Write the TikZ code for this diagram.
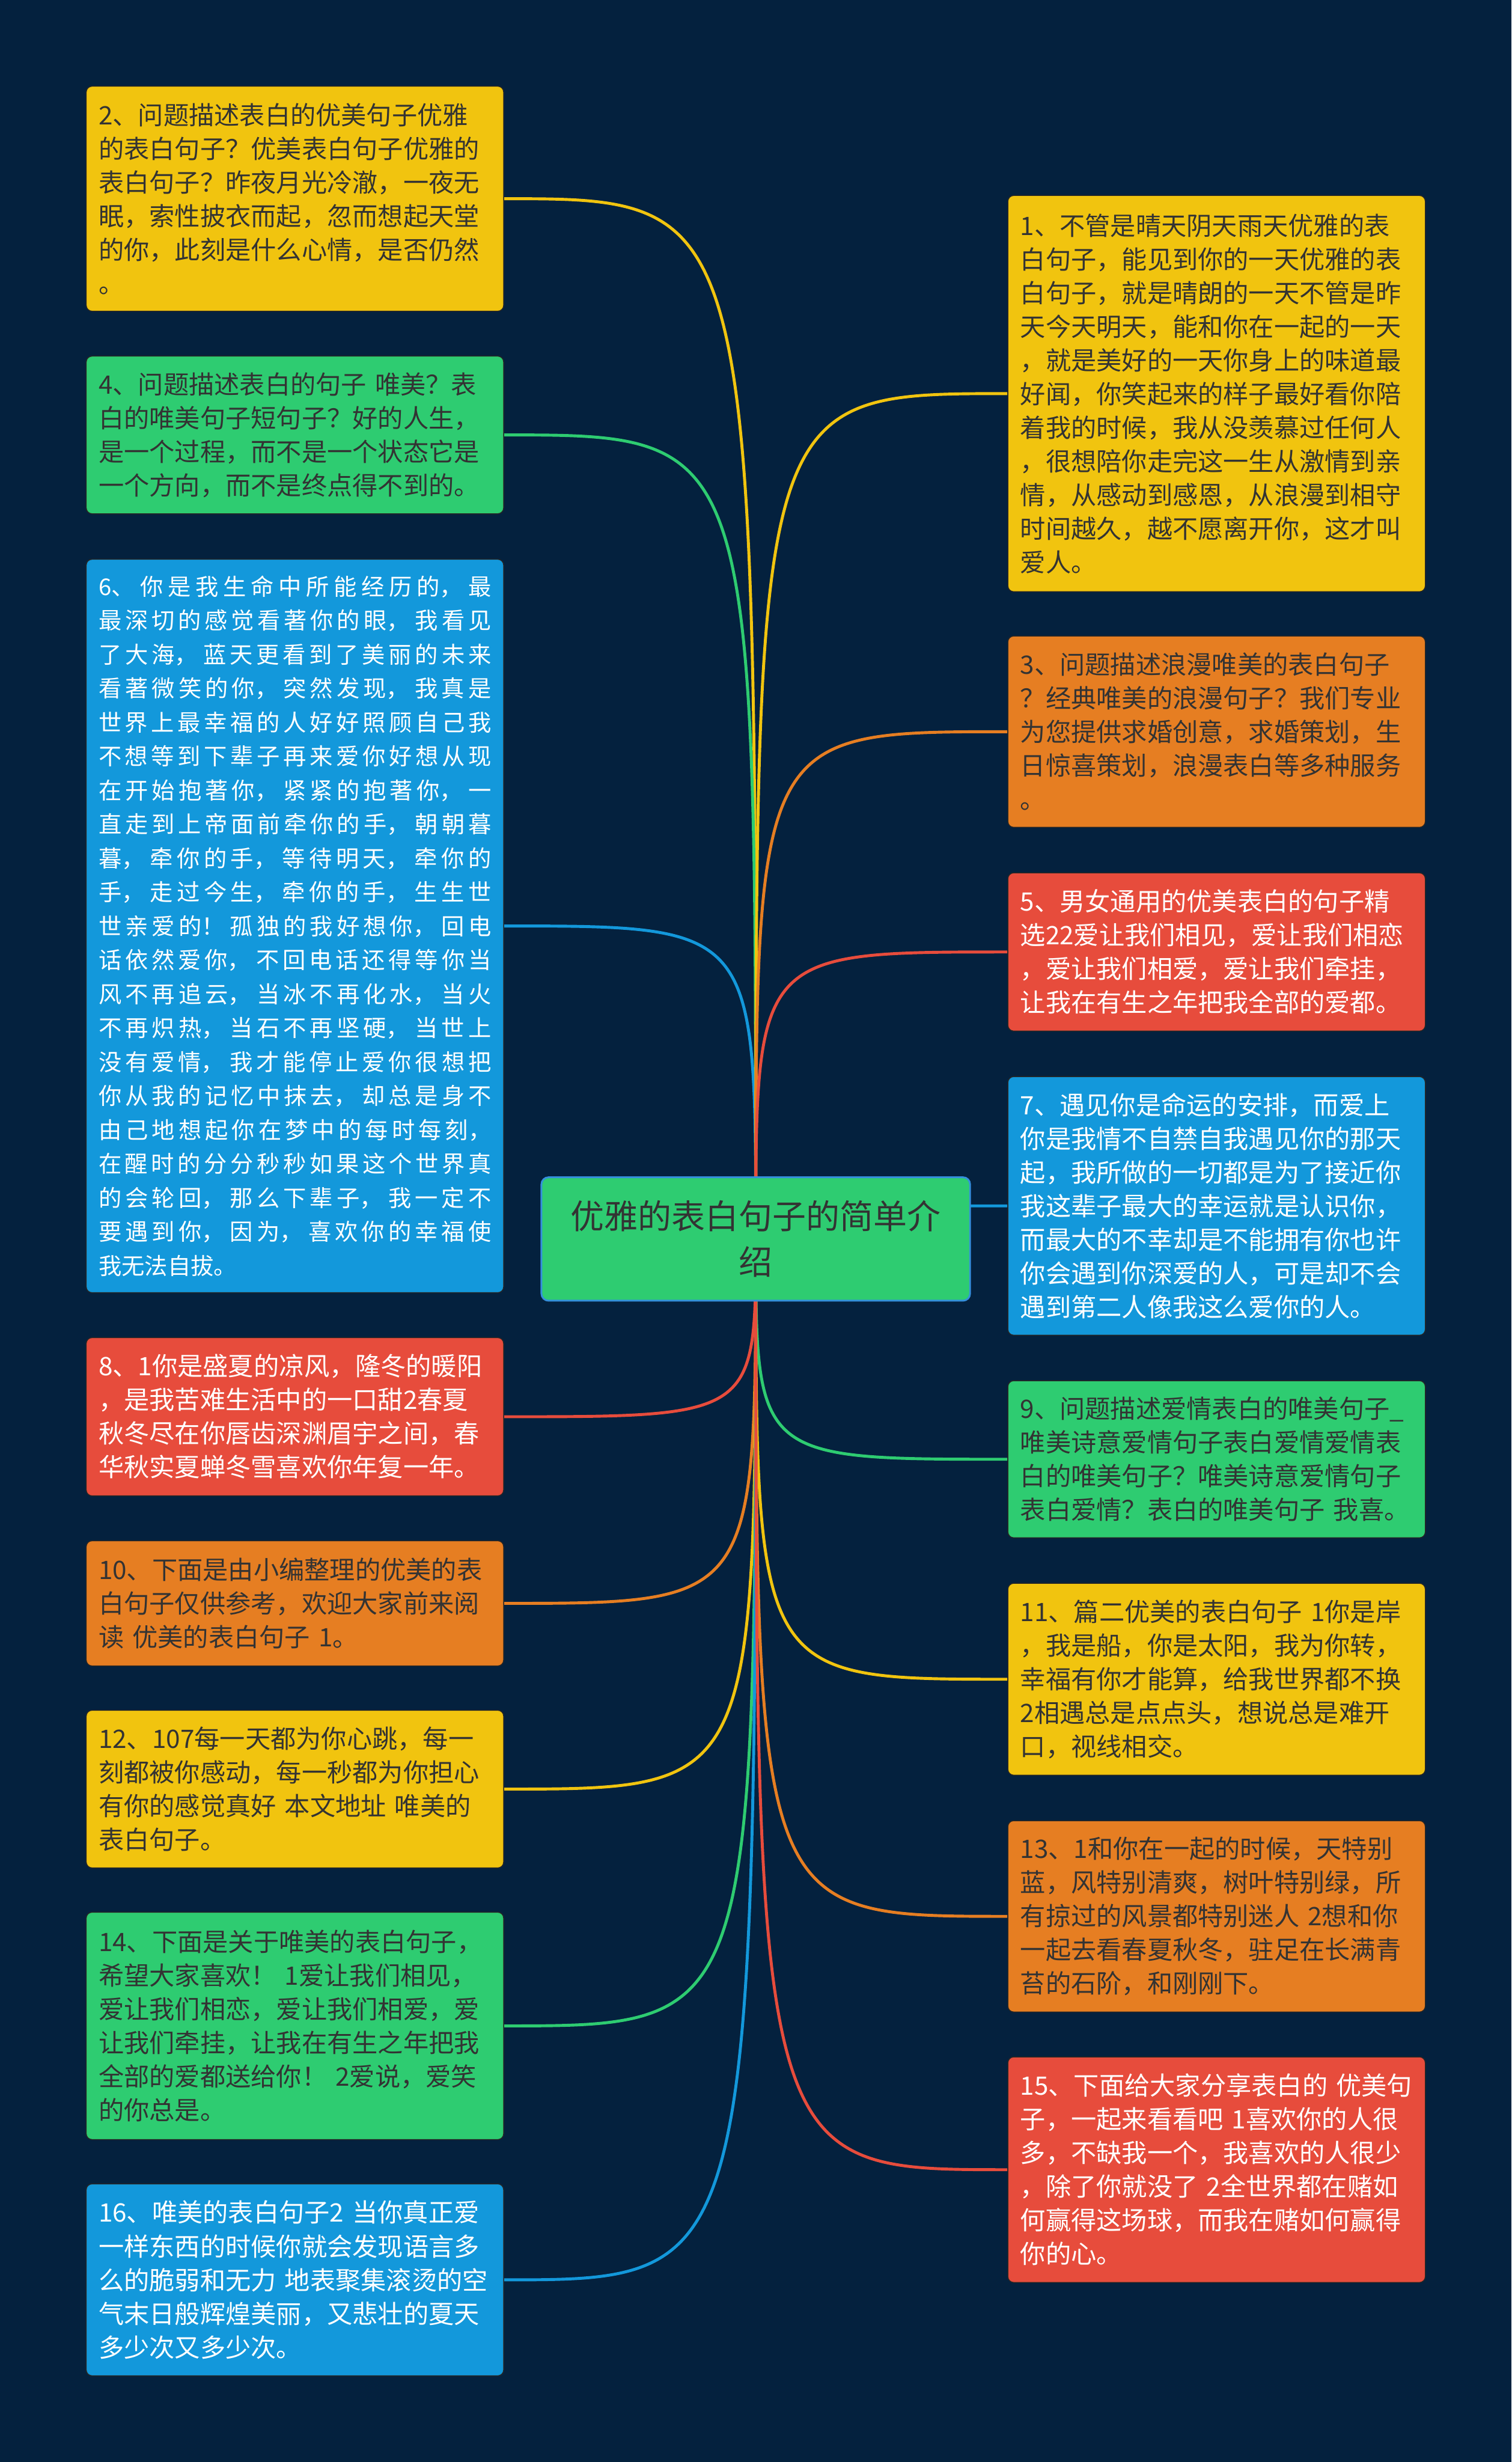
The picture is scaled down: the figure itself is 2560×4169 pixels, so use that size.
\documentclass[tikz,border=0pt]{standalone}
\usepackage{fontspec}
\setmainfont{Noto Sans CJK SC}
\definecolor{bgc}{RGB}{4,33,62}
\definecolor{cyel}{RGB}{241,196,15}
\definecolor{cgrn}{RGB}{46,204,113}
\definecolor{corg}{RGB}{230,126,34}
\definecolor{cred}{RGB}{231,76,60}
\definecolor{cblu}{RGB}{19,152,219}
\definecolor{ctxt}{RGB}{51,51,51}
\definecolor{croot}{RGB}{52,143,219}
\pgfdeclarelayer{bglayer}
\pgfdeclarelayer{lines}
\pgfsetlayers{bglayer,lines,main}
\newcommand{\cjkjust}{\XeTeXlinebreaklocale "zh"\relax\XeTeXlinebreakskip 0pt plus 40pt\relax\rightskip 22pt\relax}
\begin{document}
\begin{tikzpicture}[x=1pt,y=-1pt,
  card/.style={rectangle, rounded corners=10pt, minimum width=707pt, text width=665pt,
    inner xsep=21pt, inner ysep=0pt, align=left, draw=black!85, line width=1.5pt,
    font=\fontsize{43pt}{57pt}\selectfont},
  ycard/.style={card, fill=cyel, text=ctxt},
  gcard/.style={card, fill=cgrn, text=ctxt},
  ocard/.style={card, fill=corg, text=ctxt},
  rcard/.style={card, fill=cred, text=white},
  bcard/.style={card, fill=cblu, text=white},
  rootbox/.style={rectangle, rounded corners=12pt, minimum width=726pt, minimum height=209pt,
    fill=cgrn, draw=croot, line width=3pt, align=center, text=ctxt,
    font=\fontsize{57pt}{77pt}\selectfont},
  conn/.style={line width=5pt}
]
\begin{pgfonlayer}{bglayer}
\fill[bgc] (0,0) rectangle (2560,4169);
\end{pgfonlayer}
\useasboundingbox (0,0) rectangle (2560,4169);

\node[rootbox] (root) at (1280,2098) {优雅的表白句子的简单介\\绍};

% left column
\node[ycard, minimum height=381pt] (b2) at (499.5,336.5) {2、问题描述表白的优美句子优雅\\的表白句子？优美表白句子优雅的\\表白句子？昨夜月光冷澈，一夜无\\眠，索性披衣而起，忽而想起天堂\\的你，此刻是什么心情，是否仍然\\。};
\node[gcard, minimum height=267pt] (b4) at (499.5,736.5) {4、问题描述表白的句子~唯美？表\\白的唯美句子短句子？好的人生，\\是一个过程，而不是一个状态它是\\一个方向，而不是终点得不到的。};
\node[bcard, minimum height=1242pt, align=justify, font=\fontsize{39pt}{57.5pt}\selectfont]
  (b6) at (499.5,1568) {\cjkjust 6、~你是我生命中所能经历的，~最\linebreak 最深切的感觉看著你的眼，~我看见\linebreak 了大海，~蓝天更看到了美丽的未来\linebreak 看著微笑的你，~突然发现，~我真是\linebreak 世界上最幸福的人好好照顾自己我\linebreak 不想等到下辈子再来爱你好想从现\linebreak 在开始抱著你，~紧紧的抱著你，~一\linebreak 直走到上帝面前牵你的手，~朝朝暮\linebreak 暮，~牵你的手，~等待明天，~牵你的\linebreak 手，~走过今生，~牵你的手，~生生世\linebreak 世亲爱的！~孤独的我好想你，~回电\linebreak 话依然爱你，~不回电话还得等你当\linebreak 风不再追云，~当冰不再化水，~当火\linebreak 不再炽热，~当石不再坚硬，~当世上\linebreak 没有爱情，~我才能停止爱你很想把\linebreak 你从我的记忆中抹去，~却总是身不\linebreak 由己地想起你在梦中的每时每刻，\linebreak 在醒时的分分秒秒如果这个世界真\linebreak 的会轮回，~那么下辈子，~我一定不\linebreak 要遇到你，~因为，~喜欢你的幸福使\linebreak 我无法自拔。};
\node[rcard, minimum height=268pt] (b8) at (499.5,2399) {8、1你是盛夏的凉风，隆冬的暖阳\\，是我苦难生活中的一口甜2春夏\\秋冬尽在你唇齿深渊眉宇之间，春\\华秋实夏蝉冬雪喜欢你年复一年。};
\node[ocard, minimum height=212pt] (b10) at (499.5,2715) {10、下面是由小编整理的优美的表\\白句子仅供参考，欢迎大家前来阅\\读~优美的表白句子~1。};
\node[ycard, minimum height=267pt] (b12) at (499.5,3029.5) {12、107每一天都为你心跳，每一\\刻都被你感动，每一秒都为你担心\\有你的感觉真好~本文地址~唯美的\\表白句子。};
\node[gcard, minimum height=385pt] (b14) at (499.5,3430.5) {14、下面是关于唯美的表白句子，\\希望大家喜欢！~1爱让我们相见，\\爱让我们相恋，爱让我们相爱，爱\\让我们牵挂，让我在有生之年把我\\全部的爱都送给你！~2爱说，爱笑\\的你总是。};
\node[bcard, minimum height=325pt] (b16) at (499.5,3860.5) {16、唯美的表白句子2~当你真正爱\\一样东西的时候你就会发现语言多\\么的脆弱和无力~地表聚集滚烫的空\\气末日般辉煌美丽，又悲壮的夏天\\多少次又多少次。};

% right column
\node[ycard, minimum height=671pt] (b1) at (2060.5,666.5) {1、不管是晴天阴天雨天优雅的表\\白句子，能见到你的一天优雅的表\\白句子，就是晴朗的一天不管是昨\\天今天明天，能和你在一起的一天\\，就是美好的一天你身上的味道最\\好闻，你笑起来的样子最好看你陪\\着我的时候，我从没羡慕过任何人\\，很想陪你走完这一生从激情到亲\\情，从感动到感恩，从浪漫到相守\\时间越久，越不愿离开你，这才叫\\爱人。};
\node[ocard, minimum height=324pt] (b3) at (2060.5,1239) {3、问题描述浪漫唯美的表白句子\\？经典唯美的浪漫句子？我们专业\\为您提供求婚创意，求婚策划，生\\日惊喜策划，浪漫表白等多种服务\\。};
\node[rcard, minimum height=268pt] (b5) at (2060.5,1612) {5、男女通用的优美表白的句子精\\选22爱让我们相见，爱让我们相恋\\，爱让我们相爱，爱让我们牵挂，\\让我在有生之年把我全部的爱都。};
\node[bcard, minimum height=438pt] (b7) at (2060.5,2042) {7、遇见你是命运的安排，而爱上\\你是我情不自禁自我遇见你的那天\\起，我所做的一切都是为了接近你\\我这辈子最大的幸运就是认识你，\\而最大的不幸却是不能拥有你也许\\你会遇到你深爱的人，可是却不会\\遇到第二人像我这么爱你的人。};
\node[gcard, minimum height=266pt] (b9) at (2060.5,2471) {9、问题描述爱情表白的唯美句子\_\\唯美诗意爱情句子表白爱情爱情表\\白的唯美句子？唯美诗意爱情句子\\表白爱情？表白的唯美句子~我喜。};
\node[ycard, minimum height=325pt] (b11) at (2060.5,2843.5) {11、篇二优美的表白句子~1你是岸\\，我是船，你是太阳，我为你转，\\幸福有你才能算，给我世界都不换\\2相遇总是点点头，想说总是难开\\口，视线相交。};
\node[ocard, minimum height=324pt] (b13) at (2060.5,3245) {13、1和你在一起的时候，天特别\\蓝，风特别清爽，树叶特别绿，所\\有掠过的风景都特别迷人~2想和你\\一起去看春夏秋冬，驻足在长满青\\苔的石阶，和刚刚下。};
\node[rcard, minimum height=382pt] (b15) at (2060.5,3674) {15、下面给大家分享表白的~优美句\\子，一起来看看吧~1喜欢你的人很\\多，不缺我一个，我喜欢的人很少\\，除了你就没了~2全世界都在赌如\\何赢得这场球，而我在赌如何赢得\\你的心。};

\begin{pgfonlayer}{lines}
\draw[conn,cyel] (root.center) .. controls (root.center |- b2.east) .. (b2.east);
\draw[conn,cgrn] (root.center) .. controls (root.center |- b4.east) .. (b4.east);
\draw[conn,cblu] (root.center) .. controls (root.center |- b6.east) .. (b6.east);
\draw[conn,cred] (root.center) .. controls (root.center |- b8.east) .. (b8.east);
\draw[conn,corg] (root.center) .. controls (root.center |- b10.east) .. (b10.east);
\draw[conn,cyel] (root.center) .. controls (root.center |- b12.east) .. (b12.east);
\draw[conn,cgrn] (root.center) .. controls (root.center |- b14.east) .. (b14.east);
\draw[conn,cblu] (root.center) .. controls (root.center |- b16.east) .. (b16.east);
\draw[conn,cyel] (root.center) .. controls (root.center |- b1.west) .. (b1.west);
\draw[conn,corg] (root.center) .. controls (root.center |- b3.west) .. (b3.west);
\draw[conn,cred] (root.center) .. controls (root.center |- b5.west) .. (b5.west);
\draw[conn,cblu] (root.center) .. controls (root.center |- b7.west) .. (b7.west);
\draw[conn,cgrn] (root.center) .. controls (root.center |- b9.west) .. (b9.west);
\draw[conn,cyel] (root.center) .. controls (root.center |- b11.west) .. (b11.west);
\draw[conn,corg] (root.center) .. controls (root.center |- b13.west) .. (b13.west);
\draw[conn,cred] (root.center) .. controls (root.center |- b15.west) .. (b15.west);
\end{pgfonlayer}
\end{tikzpicture}
\end{document}
